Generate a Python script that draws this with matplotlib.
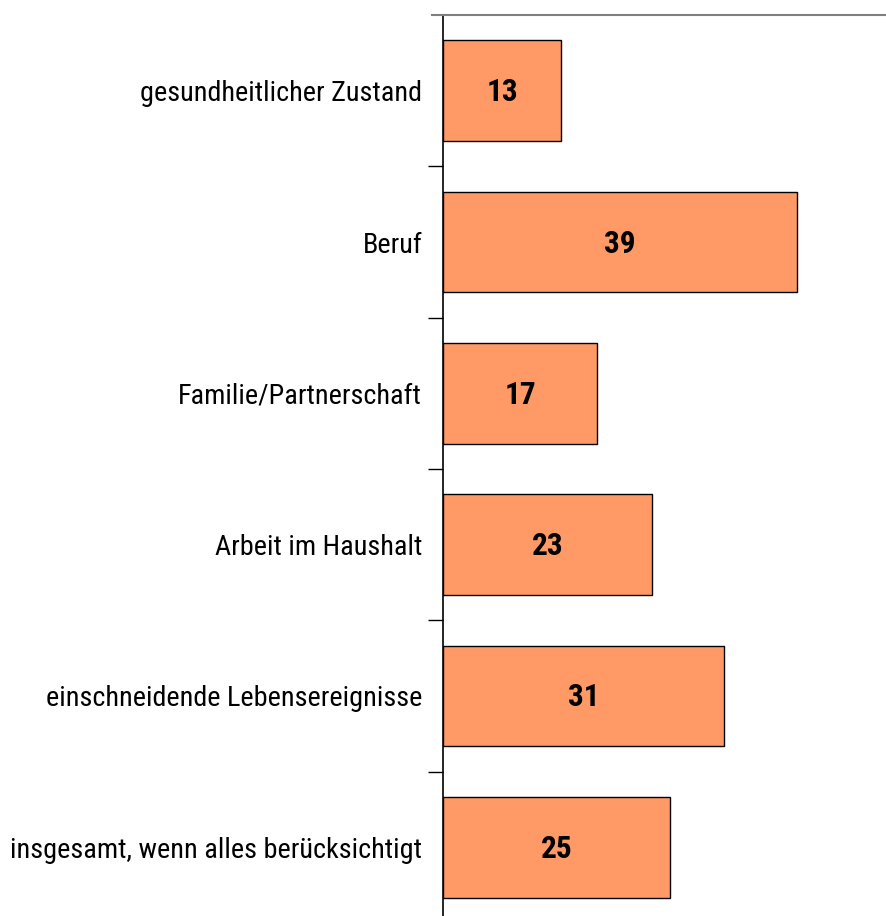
import numpy as np
import matplotlib.pyplot as plt

kategorien = [
    "gesundheitlicher Zustand",
    "Beruf",
    "Familie/Partnerschaft",
    "Arbeit im Haushalt",
    "einschneidende Lebensereignisse",
    "insgesamt, wenn alles berücksichtigt",
]
werte = [13, 39, 17, 23, 31, 25]

plt.rcParams["font.family"] = ["Roboto Condensed", "Archivo Narrow",
                               "PT Sans Narrow", "DejaVu Sans"]

fig = plt.figure(figsize=(8.86, 9.16), dpi=100)
ax = fig.add_axes([0.5, -0.0076, 0.5, 0.9912])

pos = np.arange(len(kategorien))
ax.barh(pos, werte, height=0.667, color="#FF9966", edgecolor="black", linewidth=1)
for p, w in zip(pos, werte):
    ax.text(w / 2, p + 0.01, str(w), ha="center", va="center",
            fontsize=22.5, fontweight="bold")

ax.set_xlim(0, 48.8)
ax.set_ylim(len(kategorien) - 0.5, -0.5)

# Striche zwischen den Kategorien, Beschriftung in der Mitte
ax.set_yticks(pos + 0.5, minor=False)
ax.set_yticklabels([])
ax.set_yticks(pos, minor=True)
ax.set_yticklabels(kategorien, minor=True, fontsize=20.3)
ax.tick_params(axis="y", which="major", length=11, width=1, direction="out")
ax.tick_params(axis="y", which="minor", length=0, pad=15)
ax.set_xticks([])

ax.spines["right"].set_visible(False)
ax.spines["bottom"].set_visible(False)
ax.spines["top"].set_color("#808080")
ax.spines["top"].set_linewidth(1.5)
ax.spines["left"].set_linewidth(1.2)

# Strich am oberen Rand, links vor der Achse
ax.plot([-11 / 9.08, 0], [-0.5, -0.5], color="#808080", lw=1.5, clip_on=False)

fig.savefig("out.png", dpi=100)
